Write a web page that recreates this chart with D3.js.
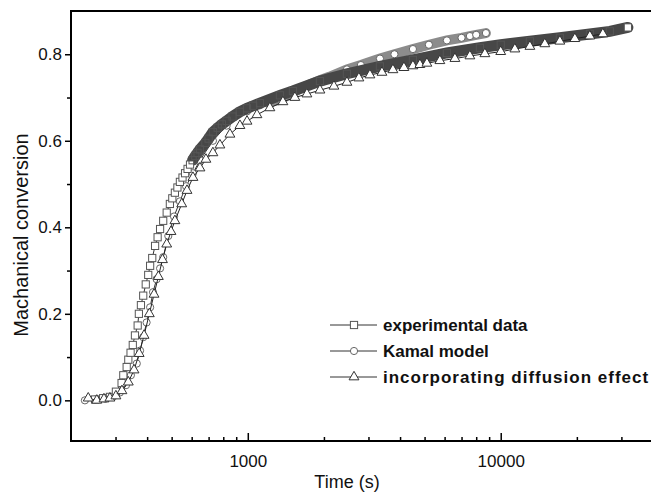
<!DOCTYPE html>
<html>
<head>
<meta charset="utf-8">
<script src="https://cdn.jsdelivr.net/npm/d3@7"></script>
<style>
  body { margin: 0; background: #fff; }
  svg { display: block; font-family: "Liberation Sans", Arial, sans-serif; }
</style>
</head>
<body>
<script>
// experimental data (squares)
let expT = [249, 268, 285, 301, 317, 322, 332, 337, 344, 351, 358, 367, 371, 378, 386, 395, 404, 411, 419, 430,
  440, 450, 463, 478, 492, 503, 515, 527, 539, 552, 565, 578, 591, 605, 620, 633, 647, 680, 700, 728, 760, 790,
  825, 870, 930, 993, 1050, 1117, 1340, 1508, 1929, 2466, 3330, 4496, 6126, 8273, 10000, 13040, 17130, 22510,
  27000, 31820]
let expV = [0.002, 0.005, 0.008, 0.02, 0.04, 0.058, 0.077, 0.094, 0.11, 0.128, 0.15, 0.173, 0.2, 0.22, 0.242,
  0.268, 0.29, 0.311, 0.329, 0.357, 0.377, 0.396, 0.415, 0.434, 0.454, 0.467, 0.48, 0.492, 0.505, 0.515, 0.525,
  0.535, 0.545, 0.555, 0.565, 0.572, 0.58, 0.595, 0.605, 0.62, 0.63, 0.638, 0.646, 0.656, 0.667, 0.675, 0.681,
  0.687, 0.705, 0.715, 0.738, 0.755, 0.772, 0.787, 0.803, 0.815, 0.822, 0.83, 0.838, 0.847, 0.853, 0.862]

// Kamal model (circles)
let kamT = [227, 249, 273, 293, 312, 330, 345, 364, 375, 386, 398, 411, 422, 436, 450, 463, 485, 511, 539, 570,
  607, 647, 728, 825, 993, 1117, 1200, 1340, 1450, 1607, 1750, 1929, 2100, 2466, 2800, 3330, 3800, 4496, 5200,
  6126, 7000, 7552, 8000, 8738]
let kamV = [0, 0.002, 0.004, 0.008, 0.018, 0.035, 0.058, 0.085, 0.115, 0.146, 0.18, 0.215, 0.25, 0.28, 0.305,
  0.331, 0.38, 0.425, 0.46, 0.495, 0.525, 0.555, 0.6, 0.635, 0.668, 0.682, 0.688, 0.695, 0.706, 0.72, 0.73,
  0.74, 0.748, 0.765, 0.775, 0.79, 0.8, 0.812, 0.822, 0.832, 0.838, 0.842, 0.845, 0.849]

// incorporating diffusion effect (triangles)
let difT = [234, 253, 270, 285, 301, 318, 337, 355, 372, 389, 408, 426, 443, 460, 478, 497, 515, 548, 575, 607,
  647, 683, 728, 776, 850, 931, 993, 1087, 1223, 1377, 1535, 1713, 1929, 2191, 2466, 2750, 3040, 3391, 3748,
  4143, 4496, 4791, 5106, 5747, 6590, 7552, 8658, 10000, 11376, 13040, 14945, 17130, 19640, 22510, 25340]
let difV = [0.005, 0, 0.003, 0.005, 0.01, 0.022, 0.042, 0.07, 0.108, 0.15, 0.2, 0.245, 0.286, 0.325, 0.361,
  0.39, 0.415, 0.454, 0.485, 0.515, 0.537, 0.557, 0.572, 0.59, 0.615, 0.635, 0.645, 0.66, 0.676, 0.69, 0.7,
  0.708, 0.717, 0.726, 0.735, 0.745, 0.752, 0.758, 0.764, 0.769, 0.773, 0.776, 0.779, 0.785, 0.79, 0.796,
  0.801, 0.806, 0.812, 0.818, 0.824, 0.83, 0.836, 0.842, 0.847]

let yTicks = [0, 0.2, 0.4, 0.6, 0.8]
let yMinor = [0.1, 0.3, 0.5, 0.7]
let xTicks = [1000, 10000]
let xMinor = [300, 400, 500, 600, 700, 800, 900, 2000, 3000, 4000, 5000, 6000, 7000, 8000, 9000, 20000, 30000]
let legendNames = ['experimental data', 'Kamal model', 'incorporating diffusion effect']

let width = 651, height = 492

let x = d3.scaleLog().domain([200, 40000]).range([71, 653])
let y = d3.scaleLinear().domain([-0.094, 0.9]).range([441, 11])

const svg = d3.select('body').append('svg')
    .attr('width', width)
    .attr('height', height)

let pts = (ts, vs) => d3.zip(ts, vs).map(([t, v]) => ({ t, v }))
let line = d3.line().x(d => x(d.t)).y(d => y(d.v))

let expData = pts(expT, expV)
let kamData = pts(kamT, kamV)
let difData = pts(difT, difV)

// where the markers are packed so tight they merge into a solid band
function band(data, from, color, w) {
  svg.append('path')
      .datum(data.filter(d => d.t >= from))
      .attr('fill', 'none')
      .attr('stroke', color)
      .attr('stroke-width', w)
      .attr('stroke-linecap', 'round')
      .attr('d', line)
}

function series(data, color) {
  svg.append('path')
      .datum(data)
      .attr('fill', 'none')
      .attr('stroke', color)
      .attr('stroke-width', 1)
      .attr('d', line)
}

// Kamal model
series(kamData, '#333')
band(kamData, 1150, '#8c8c8c', 10)
svg.append('g')
  .selectAll('circle')
  .data(kamData)
  .join('circle')
    .attr('cx', d => x(d.t))
    .attr('cy', d => y(d.v))
    .attr('r', 3.6)
    .attr('fill', '#fff')
    .attr('stroke', '#666')

// experimental data
series(expData, '#333')
band(expData, 600, '#474747', 11)
svg.append('g')
  .selectAll('rect')
  .data(expData)
  .join('rect')
    .attr('x', d => x(d.t) - 3.6)
    .attr('y', d => y(d.v) - 3.6)
    .attr('width', 7.2)
    .attr('height', 7.2)
    .attr('fill', (d, i) => (d.t < 600 || i === expData.length - 1) ? '#fff' : 'none')
    .attr('stroke', '#555')

// incorporating diffusion effect
series(difData, '#222')
let tri = d3.symbol().type(d3.symbolTriangle).size(42)
svg.append('g')
  .selectAll('path')
  .data(difData)
  .join('path')
    .attr('transform', d => `translate(${x(d.t)},${y(d.v)})`)
    .attr('d', tri)
    .attr('fill', '#fff')
    .attr('stroke', '#333')

// frame
svg.append('path')
    .attr('d', `M${x(200)},${y(-0.094)}V${y(0.9)}H${x(40000)}V${y(-0.094)}Z`)
    .attr('fill', 'none')
    .attr('stroke', '#000')
    .attr('stroke-width', 2)

// y axis, ticks outward
let yAxis = svg.append('g').attr('transform', `translate(${x(200)},0)`)
yAxis.call(d3.axisLeft(y).tickValues(yTicks).tickSize(6).tickPadding(3).tickFormat(d3.format('.1f')))
yAxis.append('g').call(d3.axisLeft(y).tickValues(yMinor).tickSize(4).tickFormat(''))
yAxis.selectAll('.domain').remove()
yAxis.selectAll('line').attr('stroke-width', 1.5)
yAxis.selectAll('text').attr('font-size', 17).attr('fill', '#111')

// x axis, ticks inward
let xAxis = svg.append('g').attr('transform', `translate(0,${y(-0.094)})`)
xAxis.call(d3.axisBottom(x).tickValues(xTicks).tickSize(-8).tickPadding(14).tickFormat(d3.format('d')))
xAxis.append('g').call(d3.axisBottom(x).tickValues(xMinor).tickSize(-4).tickFormat(''))
xAxis.selectAll('.domain').remove()
xAxis.selectAll('line').attr('stroke-width', 1.5)
xAxis.selectAll('text').attr('font-size', 17).attr('fill', '#111')

svg.append('text')
    .text('Time (s)')
    .attr('x', 347)
    .attr('y', 488)
    .attr('text-anchor', 'middle')
    .attr('font-size', 18)
    .attr('fill', '#111')

svg.append('text')
    .text('Machanical conversion')
    .attr('transform', 'rotate(-90)')
    .attr('x', -235)
    .attr('y', 28)
    .attr('text-anchor', 'middle')
    .attr('font-size', 20)
    .attr('fill', '#111')

// legend
let legend = svg.append('g')
let rows = [325, 351, 377]
legendNames.forEach((name, i) => {
  let ly = rows[i]
  legend.append('line')
      .attr('x1', 330).attr('x2', 377)
      .attr('y1', ly).attr('y2', ly)
      .attr('stroke', '#333')
  if (i === 0) {
    legend.append('rect')
        .attr('x', 350.4).attr('y', ly - 3.6)
        .attr('width', 7.2).attr('height', 7.2)
        .attr('fill', '#fff').attr('stroke', '#555')
  } else if (i === 1) {
    legend.append('circle')
        .attr('cx', 354).attr('cy', ly).attr('r', 3.6)
        .attr('fill', '#fff').attr('stroke', '#666')
  } else {
    legend.append('path')
        .attr('transform', `translate(354,${ly})`)
        .attr('d', tri)
        .attr('fill', '#fff').attr('stroke', '#333')
  }
  legend.append('text')
      .text(name)
      .attr('x', 383)
      .attr('y', ly + 6)
      .attr('font-size', 17)
      .attr('font-weight', 'bold')
      .attr('letter-spacing', i === 2 ? 1 : 0)
      .attr('fill', '#111')
})
</script>
</body>
</html>
